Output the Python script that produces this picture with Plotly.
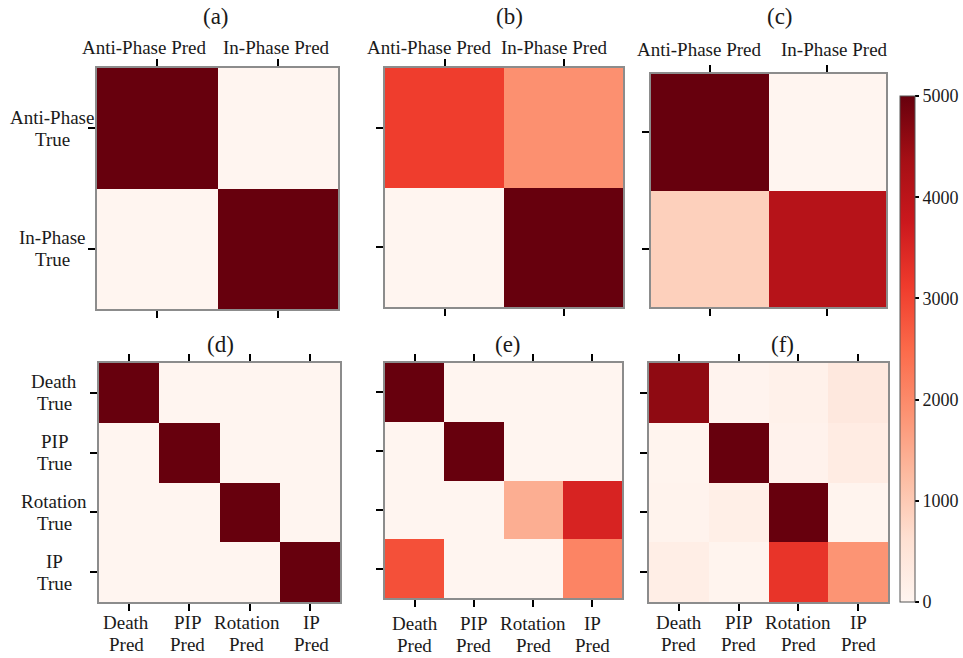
import plotly.graph_objects as go

# ---------------- data ----------------
two_pred = ["Anti-Phase Pred", "In-Phase Pred"]
two_true = ["Anti-Phase<br>True", "In-Phase<br>True"]
four_pred = ["Death<br>Pred", "PIP<br>Pred", "Rotation<br>Pred", "IP<br>Pred"]
four_true = ["Death<br>True", "PIP<br>True", "Rotation<br>True", "IP<br>True"]

cm_a = [[5000, 0],
        [0, 5000]]
cm_b = [[3100, 1900],
        [0, 5000]]
cm_c = [[5000, 0],
        [900, 4100]]
cm_d = [[5000, 0, 0, 0],
        [0, 5000, 0, 0],
        [0, 0, 5000, 0],
        [0, 0, 0, 5000]]
cm_e = [[5000, 0, 0, 0],
        [0, 5000, 0, 0],
        [0, 0, 1450, 3550],
        [2850, 0, 0, 2100]]
cm_f = [[4600, 50, 120, 380],
        [40, 5000, 90, 280],
        [60, 180, 5000, 40],
        [200, 40, 3250, 1850]]

panel_titles = ["(a)", "(b)", "(c)", "(d)", "(e)", "(f)"]
colorbar_ticks = [0, 1000, 2000, 3000, 4000, 5000]

# matplotlib / colorbrewer "Reds"
reds = [[0.0, "rgb(255,245,240)"], [0.125, "rgb(254,224,210)"],
        [0.25, "rgb(252,187,161)"], [0.375, "rgb(252,146,114)"],
        [0.5, "rgb(251,106,74)"], [0.625, "rgb(239,59,44)"],
        [0.75, "rgb(203,24,29)"], [0.875, "rgb(165,15,21)"],
        [1.0, "rgb(103,0,13)"]]

W, H = 963, 658
FONT = "Liberation Serif, Times New Roman, serif"
TXT = "#1a1a1a"
LINE_GAP = 22  # px between lines of a two-line label

# pixel boxes (left, top, right, bottom)
boxes = [(97, 68, 338, 309), (385, 68, 623, 307), (651, 74, 886, 307),
         (99, 363, 340, 602), (385, 363, 622, 598), (649, 363, 888, 602)]
title_pos = [(216, 16), (510, 16), (780, 16), (220, 344), (508, 344), (782, 344)]
# horizontal nudges of the x labels and their distance from the frame (px)
xlab_shift = [[-13, -1], [-15, -9], [-10, 7],
              [-3, -2, -3, 2], [0, 0, 0, 0], [0, 0, 0, 0]]
xlab_gap = [20, 20, 24, 20, 25, 20]

mats = [cm_a, cm_b, cm_c, cm_d, cm_e, cm_f]
xlabs = [two_pred] * 3 + [four_pred] * 3
ylabs = [two_true, None, None, four_true, None, None]

fig = go.Figure()
annotations = []
layout = {}
lab_font = dict(family=FONT, size=19, color=TXT)
for i, (m, box) in enumerate(zip(mats, boxes)):
    n = len(m)
    sfx = "" if i == 0 else str(i + 1)
    fig.add_trace(go.Heatmap(z=m, x=list(range(n)), y=list(range(n)),
                             coloraxis="coloraxis", xaxis="x" + sfx, yaxis="y" + sfx))
    l, t, r, b = box
    top_row = i < 3
    layout["xaxis" + sfx] = dict(
        domain=[l / W, r / W], anchor="y" + sfx, range=[-0.5, n - 0.5],
        side="top" if top_row else "bottom", automargin=False,
        tickmode="array", tickvals=list(range(n)), ticktext=[""] * n,
        ticks="outside", ticklen=7, tickwidth=2, tickcolor="black",
        showline=True, linecolor="#8c8c8c", linewidth=1.5, mirror="ticks",
        showgrid=False, zeroline=False, fixedrange=True)
    layout["yaxis" + sfx] = dict(
        domain=[1 - b / H, 1 - t / H], anchor="x" + sfx, range=[n - 0.5, -0.5],
        automargin=False,
        tickmode="array", tickvals=list(range(n)), ticktext=[""] * n,
        ticks="outside", ticklen=7, tickwidth=2, tickcolor="black",
        showline=True, linecolor="#8c8c8c", linewidth=1.5, mirror=True,
        showgrid=False, zeroline=False, fixedrange=True)
    # x labels (one line on top, two lines below)
    for k, lab in enumerate(xlabs[i]):
        lines = lab.split("<br>")
        for j, line in enumerate(lines):
            if top_row:
                yv, ys = 1, xlab_gap[i]
            else:
                yv, ys = 0, -xlab_gap[i] - j * LINE_GAP
            annotations.append(dict(
                xref="x" + sfx, x=k, xanchor="center", xshift=xlab_shift[i][k],
                yref="y" + sfx + " domain", y=yv, yanchor="middle",
                yshift=ys, text=line, showarrow=False, font=lab_font))
    # two-line y labels (centred lines)
    if ylabs[i] is not None:
        for k, lab in enumerate(ylabs[i]):
            lines = lab.split("<br>")
            for j, line in enumerate(lines):
                annotations.append(dict(
                    xref="x" + sfx + " domain", x=0, xanchor="center", xshift=-45,
                    yref="y" + sfx, y=k, yanchor="middle",
                    yshift=LINE_GAP / 2 - j * LINE_GAP, text=line,
                    showarrow=False, font=lab_font))
    tx, ty = title_pos[i]
    annotations.append(dict(xref="paper", yref="paper", x=tx / W, y=1 - ty / H,
                            xanchor="center", yanchor="middle", text=panel_titles[i],
                            showarrow=False, font=dict(family=FONT, size=23, color=TXT)))

fig.update_layout(
    width=W, height=H, margin=dict(l=0, r=0, t=0, b=0, autoexpand=False),
    paper_bgcolor="white", plot_bgcolor="white",
    annotations=annotations,
    coloraxis=dict(
        colorscale=reds, cmin=0, cmax=5000,
        colorbar=dict(
            x=900 / W, xanchor="left", xpad=0, ypad=0,
            y=1 - 602 / H, yanchor="bottom", lenmode="pixels", len=506,
            thickness=15, outlinewidth=1, outlinecolor="#555",
            tickmode="array", tickvals=colorbar_ticks,
            ticks="outside", ticklen=4, tickwidth=1.5, tickcolor="black",
            tickfont=dict(family=FONT, size=18, color=TXT))),
    **layout)

fig.write_html("out.html")
